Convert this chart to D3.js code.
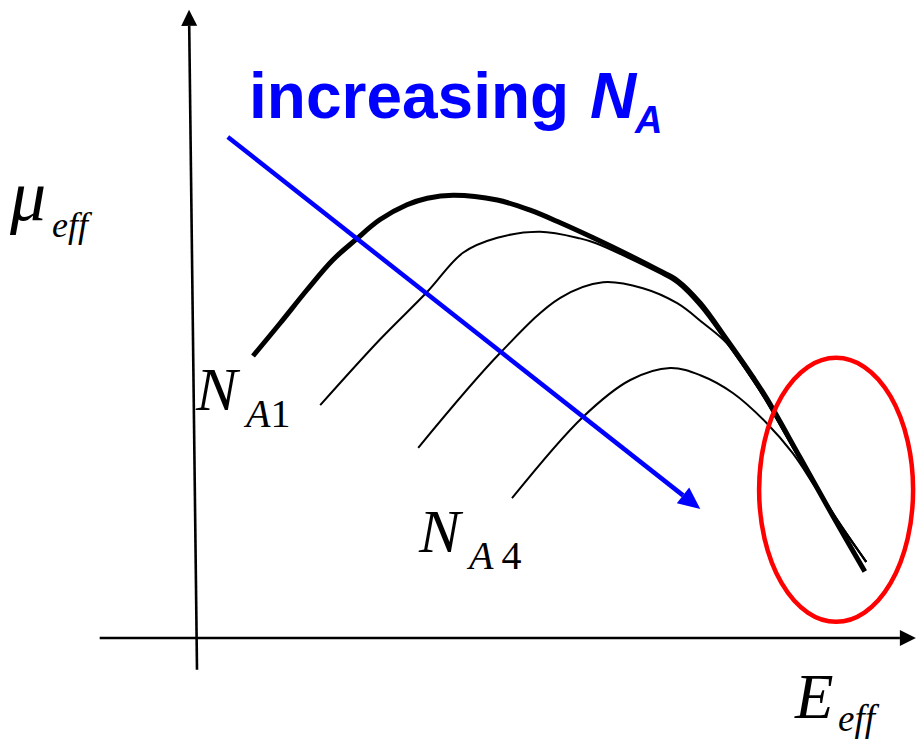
<!DOCTYPE html>
<html>
<head>
<meta charset="utf-8">
<script src="https://cdn.jsdelivr.net/npm/d3@7"></script>
<style>
  html, body { margin: 0; padding: 0; background: #fff; }
  svg { display: block; }
</style>
</head>
<body>
<svg id="chart" width="916" height="745"></svg>
<script>
// Mobility vs. effective field, one curve per doping level (arbitrary units)
const curveNames = ["NA1", "NA2", "NA3", "NA4"];

const curveNA1 = [[8.0,47.0],[11.9,52.5],[15.7,58.0],[19.4,63.0],[22.6,66.3],[26.1,69.7],[30.0,72.2],
  [32.9,73.3],[36.6,73.8],[42.9,73.0],[47.6,71.3],[51.9,69.2],[56.6,66.7],[61.4,64.0],[66.1,61.2],
  [68.6,59.6],[71.9,55.8],[75.7,49.7],[79.4,43.5],[81.4,39.9],[86.1,30.2],[90.9,20.2],[95.4,11.1]];
const curveNA2 = [[17.6,38.8],[26.1,49.7],[32.9,57.7],[38.0,64.2],[42.9,66.7],[49.0,67.7],[54.7,66.6],
  [57.0,65.8],[61.4,63.5],[66.1,60.8],[68.6,59.1],[71.9,55.2],[75.7,49.2],[79.4,43.0],[81.4,39.4],
  [86.1,29.8],[90.9,20.7],[95.6,12.7]];
const curveNA3 = [[31.6,31.7],[43.3,47.5],[51.9,56.7],[58.0,59.3],[63.7,58.3],[68.6,55.8],[72.3,52.5],
  [75.7,49.1],[79.4,43.0],[81.4,39.3],[86.1,29.8],[90.9,20.7],[95.6,12.7]];
const curveNA4 = [[45.0,23.3],[55.1,36.8],[61.9,43.0],[67.6,45.0],[71.9,43.8],[76.6,40.8],
  [81.4,35.8],[85.1,30.8],[88.3,25.2],[91.9,18.8],[95.6,12.7]];
const curveWidths = [5, 2, 2, 2];

// Trend arrow (increasing doping) and the high-field region highlight
const trendArrow = [[4.4, 83.5], [71.9, 21.5]];
const highFieldRegion = { cx: 91.3, cy: 24.7, rx: 11.0, ry: 22.0 };

// Axis extents
const yAxisLine = [[0, -5.3], [-1.14, 104.7]];
const xAxisLine = [[-13.9, 0], [102.7, 0]];

const svg = d3.select("#chart");
const x = d3.scaleLinear().domain([0, 100]).range([197, 897]);
const y = d3.scaleLinear().domain([0, 100]).range([638, 38]);

const line = d3.line().x(d => x(d[0])).y(d => y(d[1])).curve(d3.curveCatmullRom.alpha(0.5));

// filled triangular head at the end of a segment
function arrowHead(g, p0, p1, len, half, color) {
  const x0 = x(p0[0]), y0 = y(p0[1]), x1 = x(p1[0]), y1 = y(p1[1]);
  const a = Math.atan2(y1 - y0, x1 - x0);
  const bx = x1 - len * Math.cos(a), by = y1 - len * Math.sin(a);
  const nx = -Math.sin(a), ny = Math.cos(a);
  g.append("polygon")
    .attr("points", [[x1, y1], [bx + nx * half, by + ny * half], [bx - nx * half, by - ny * half]].map(p => p.join(",")).join(" "))
    .attr("fill", color);
  return [bx, by];
}

// axes
const axes = svg.append("g");
[yAxisLine, xAxisLine].forEach(seg => {
  const g = axes.append("g");
  const base = arrowHead(g, seg[0], seg[1], 16, 8, "#000");
  g.append("line")
    .attr("x1", x(seg[0][0])).attr("y1", y(seg[0][1]))
    .attr("x2", base[0]).attr("y2", base[1])
    .attr("stroke", "#000").attr("stroke-width", 2.6);
});

// mobility curves
const curves = [curveNA1, curveNA2, curveNA3, curveNA4];
svg.append("g").selectAll("path")
  .data(curves)
  .join("path")
  .attr("class", (d, i) => "curve " + curveNames[i])
  .attr("d", line)
  .attr("fill", "none")
  .attr("stroke", "#000")
  .attr("stroke-linejoin", "round")
  .attr("stroke-width", (d, i) => curveWidths[i]);

// trend arrow
const tg = svg.append("g");
const tb = arrowHead(tg, trendArrow[0], trendArrow[1], 22, 10, "#0000ff");
tg.append("line")
  .attr("x1", x(trendArrow[0][0])).attr("y1", y(trendArrow[0][1]))
  .attr("x2", tb[0]).attr("y2", tb[1])
  .attr("stroke", "#0000ff").attr("stroke-width", 4.5);

// high-field region
svg.append("ellipse")
  .attr("cx", x(highFieldRegion.cx)).attr("cy", y(highFieldRegion.cy))
  .attr("rx", x(highFieldRegion.rx) - x(0)).attr("ry", y(0) - y(highFieldRegion.ry))
  .attr("fill", "none").attr("stroke", "#ff0000").attr("stroke-width", 4.5);

// labels
const serif = "'Liberation Serif', 'Times New Roman', serif";
const sans = "'Liberation Sans', Arial, sans-serif";

function label(px, py, txt, size, family, opts = {}) {
  return svg.append("text")
    .attr("x", px).attr("y", py)
    .attr("font-family", family)
    .attr("font-size", size)
    .attr("font-style", opts.italic ? "italic" : "normal")
    .attr("font-weight", opts.bold ? "bold" : "normal")
    .attr("fill", opts.color || "#000")
    .text(txt);
}

// trend caption with subscripted symbol
const cap = svg.append("text")
  .attr("x", 249).attr("y", 118)
  .attr("font-family", sans).attr("font-weight", "bold")
  .attr("font-size", 64).attr("fill", "#0000ff");
cap.append("tspan").text("increasing ");
cap.append("tspan").attr("x", 590).attr("font-style", "italic").text("N");
cap.append("tspan").attr("x", 635).attr("dy", 15).attr("font-size", 38).attr("font-style", "italic").text("A");

label(10, 220, "μ", 72, serif, { italic: true });
label(52, 237, "eff", 36, serif, { italic: true });

// subscripted doping labels: italic letter plus upright index
function dopingLabel(px, py, idx, gap) {
  const t = svg.append("text")
    .attr("x", px).attr("y", py)
    .attr("font-family", serif).attr("font-size", 62);
  t.append("tspan").attr("font-style", "italic").text("N");
  t.append("tspan").attr("x", px + 50).attr("dy", 17).attr("font-size", 40).attr("font-style", "italic").text("A");
  t.append("tspan").attr("dx", gap).attr("font-size", 40).text(idx);
}
dopingLabel(196, 410, "1", 0);
dopingLabel(419, 552, "4", 8);

label(795, 718, "E", 63, serif, { italic: true });
label(838, 731, "eff", 37, serif, { italic: true });
</script>
</body>
</html>
